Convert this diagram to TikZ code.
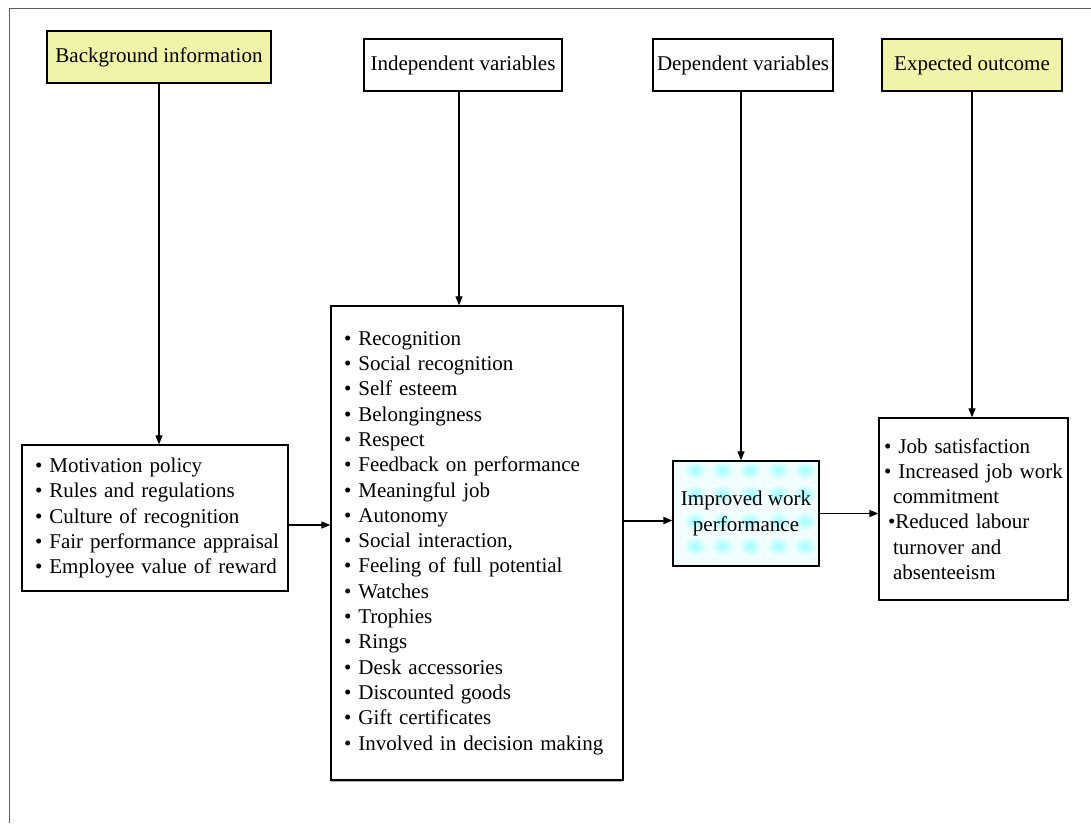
\documentclass[tikz,border=0pt]{standalone}
\usepackage{fontspec}
\setmainfont{Liberation Serif}
\usetikzlibrary{arrows.meta, positioning, shadows}
\definecolor{headyellow}{RGB}{240,243,168}
\definecolor{framegray}{RGB}{95,95,95}
\newcommand{\bl}[1]{\mbox{•~#1}}

\begin{document}
\begin{tikzpicture}[x=1pt, y=-1pt,
  every node/.style={font=\fontsize{21}{25.3}\selectfont},
  headbox/.style={draw, line width=1.3pt, minimum height=52pt, inner sep=0pt},
  listbox/.style={draw, fill=white, line width=1.3pt, align=left, inner ysep=0pt},
  flow/.style={-{Triangle[length=9pt,width=7pt]}, line width=1.1pt}]
\useasboundingbox (0,0) rectangle (1091,823);
\draw[framegray, line width=0.8pt] (9,823) -- (9,8) -- (1091,8);

% column heads
\node[headbox, fill=headyellow, minimum width=224pt] (bg) at (159,57) {Background information};
\node[headbox, minimum width=198pt] (iv) at (463,65) {Independent variables};
\node[headbox, minimum width=180pt] (dv) at (743,65) {Dependent variables};
\node[headbox, fill=headyellow, minimum width=180pt] (eo) at (972,65) {Expected outcome};

% lists
\node[listbox, text width=240pt, inner xsep=13pt, minimum height=146pt] (bglist) at (155,518)
  {\bl{Motivation policy}\\ \bl{Rules and regulations}\\ \bl{Culture of recognition}\\
   \bl{Fair performance appraisal}\\ \bl{Employee value of reward}};
\node[listbox, text width=266pt, inner xsep=13pt, minimum height=474pt,
      drop shadow={shadow xshift=0pt, shadow yshift=-2pt, fill=gray!60, opacity=1}] (vars) at (477,543)
  {\bl{Recognition}\\ \bl{Social recognition}\\ \bl{Self esteem}\\ \bl{Belongingness}\\ \bl{Respect}\\
   \bl{Feedback on performance}\\ \bl{Meaningful job}\\ \bl{Autonomy}\\ \bl{Social interaction,}\\
   \bl{Feeling of full potential}\\ \bl{Watches}\\ \bl{Trophies}\\ \bl{Rings}\\ \bl{Desk accessories}\\
   \bl{Discounted goods}\\ \bl{Gift certificates}\\ \bl{Involved in decision making}};
\node[listbox, text width=179pt, inner xsep=5pt, minimum height=182pt] (outc) at (973.5,509)
  {\bl{Job satisfaction}\\ \bl{Increased job work}\\ \hspace*{9pt}commitment\\
   \hspace*{4pt}•Reduced labour\\ \hspace*{9pt}turnover and\\ \hspace*{9pt}absenteeism};

% patterned result box
\fill[cyan!5] (673,461) rectangle (819,566);
\foreach \cx in {695,722,750,778,805}
  \foreach \cy in {470,494,521,546}
    \shade[inner color=cyan!38, outer color=cyan!5] (\cx-12,\cy-10) rectangle (\cx+12,\cy+10);
\node[draw, line width=1.3pt, minimum width=146pt, minimum height=105pt, align=center] (impr) at (746,513.5)
  {Improved work\\performance};

% connectors
\draw[flow] (bg.south) -- (bg.south |- bglist.north);
\draw[flow] ([xshift=-4pt]iv.south) -- ([xshift=-4pt]iv.south |- vars.north);
\draw[flow] ([xshift=-2pt]dv.south) -- ([xshift=-2pt]dv.south |- impr.north);
\draw[flow] (eo.south) -- (eo.south |- outc.north);
\draw[flow] ([yshift=-7pt]bglist.east) -- ([yshift=-7pt]bglist.east -| vars.west);
\draw[flow, line width=2pt] ([yshift=-7pt]impr.west -| vars.east) -- ([yshift=-7pt]impr.west);
\draw[flow] (impr.east) -- (impr.east -| outc.west);
\end{tikzpicture}
\end{document}
